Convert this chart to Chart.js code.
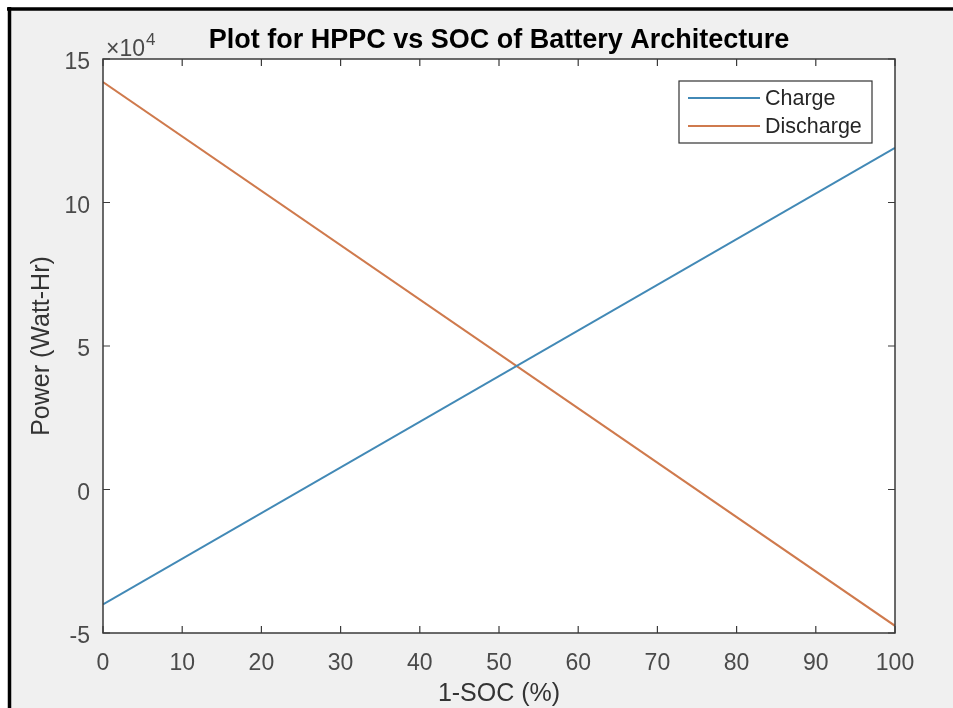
<!DOCTYPE html>
<html>
<head>
<meta charset="utf-8">
<script src="https://cdn.jsdelivr.net/npm/chart.js@4.4.0/dist/chart.umd.min.js"></script>
<style>
  html, body { margin: 0; padding: 0; background: #fff; }
  canvas { display: block; }
</style>
</head>
<body>
<canvas id="hppcChart" width="953" height="708"></canvas>
<script>
// valores (Power en Watt-Hr, eje x = 1-SOC %)
const socPercent = [0, 100];
const chargePower = [-40000, 119000];
const dischargePower = [142000, -47500];

const xTickValues = [0, 10, 20, 30, 40, 50, 60, 70, 80, 90, 100];
const yTickValues = [-50000, 0, 50000, 100000, 150000];
const yExponent = 4;

const FONT = '"Liberation Sans", Arial, Helvetica, sans-serif';
const AXIS_COLOR = '#3a3a3a';
const TEXT_COLOR = '#4a4a4a';

function toPoints(xs, ys) {
  return xs.map((x, i) => ({ x: x, y: ys[i] }));
}

// fondo gris estilo MATLAB, marco negro y area blanca
const matlabFrame = {
  id: 'matlabFrame',
  beforeDraw(chart) {
    const ctx = chart.ctx;
    const a = chart.chartArea;
    ctx.save();
    ctx.fillStyle = '#ffffff';
    ctx.fillRect(0, 0, chart.width, chart.height);
    ctx.fillStyle = '#f0f0f0';
    ctx.fillRect(9, 9, chart.width - 9, chart.height - 9);
    ctx.strokeStyle = '#000';
    ctx.lineWidth = 3.5;
    ctx.beginPath();
    ctx.moveTo(7, 9); ctx.lineTo(chart.width, 9);
    ctx.moveTo(9.5, 7); ctx.lineTo(9.5, chart.height);
    ctx.stroke();
    ctx.fillStyle = '#ffffff';
    ctx.fillRect(a.left, a.top, a.right - a.left, a.bottom - a.top);
    ctx.restore();
  },
  afterDatasetsDraw(chart) {
    const ctx = chart.ctx;
    const a = chart.chartArea;
    const xs = chart.scales.x;
    const ys = chart.scales.y;
    ctx.save();

    // caja de ejes
    ctx.strokeStyle = AXIS_COLOR;
    ctx.lineWidth = 1.5;
    ctx.strokeRect(a.left, a.top, a.right - a.left, a.bottom - a.top);

    // marcas hacia dentro en los cuatro lados
    const tl = 7;
    ctx.lineWidth = 1.2;
    ctx.beginPath();
    xTickValues.forEach(v => {
      const px = xs.getPixelForValue(v);
      ctx.moveTo(px, a.bottom); ctx.lineTo(px, a.bottom - tl);
      ctx.moveTo(px, a.top); ctx.lineTo(px, a.top + tl);
    });
    yTickValues.forEach(v => {
      const py = ys.getPixelForValue(v);
      ctx.moveTo(a.left, py); ctx.lineTo(a.left + tl, py);
      ctx.moveTo(a.right, py); ctx.lineTo(a.right - tl, py);
    });
    ctx.stroke();

    // leyenda
    const lx = 679, ly = 81, lw = 193, lh = 62;
    ctx.fillStyle = '#ffffff';
    ctx.fillRect(lx, ly, lw, lh);
    ctx.strokeStyle = '#333';
    ctx.lineWidth = 1.2;
    ctx.strokeRect(lx, ly, lw, lh);
    ctx.font = '21.5px ' + FONT;
    ctx.textBaseline = 'middle';
    ctx.textAlign = 'left';
    chart.data.datasets.forEach((ds, i) => {
      const y = ly + 17 + i * 28;
      ctx.strokeStyle = ds.borderColor;
      ctx.lineWidth = 2;
      ctx.beginPath();
      ctx.moveTo(lx + 9, y); ctx.lineTo(lx + 81, y);
      ctx.stroke();
      ctx.fillStyle = '#262626';
      ctx.fillText(ds.label, lx + 86, y + 1);
    });

    // titulo
    ctx.fillStyle = '#000';
    ctx.font = 'bold 27px ' + FONT;
    ctx.textAlign = 'center';
    ctx.textBaseline = 'alphabetic';
    ctx.fillText('Plot for HPPC vs SOC of Battery Architecture', (a.left + a.right) / 2, 48);

    // titulos de ejes
    ctx.fillStyle = '#333';
    ctx.font = '25px ' + FONT;
    ctx.textBaseline = 'middle';
    ctx.fillText('1-SOC (%)', (a.left + a.right) / 2, 694);
    ctx.save();
    ctx.translate(42, (a.top + a.bottom) / 2);
    ctx.rotate(-Math.PI / 2);
    ctx.fillText('Power (Watt-Hr)', 0, 0);
    ctx.restore();

    // multiplicador x10^4
    ctx.fillStyle = TEXT_COLOR;
    ctx.textAlign = 'left';
    ctx.textBaseline = 'alphabetic';
    ctx.font = '23px ' + FONT;
    ctx.fillText('\u00d710', a.left + 3, 56);
    const w = ctx.measureText('\u00d710').width;
    ctx.font = '17px ' + FONT;
    ctx.fillText(String(yExponent), a.left + 4 + w, 45);

    ctx.restore();
  }
};

new Chart(document.getElementById('hppcChart'), {
  type: 'line',
  data: {
    datasets: [
      {
        label: 'Charge',
        data: toPoints(socPercent, chargePower),
        borderColor: '#4289b6',
        borderWidth: 2,
        pointRadius: 0,
        tension: 0
      },
      {
        label: 'Discharge',
        data: toPoints(socPercent, dischargePower),
        borderColor: '#cf7a4d',
        borderWidth: 2,
        pointRadius: 0,
        tension: 0
      }
    ]
  },
  options: {
    responsive: false,
    devicePixelRatio: 1,
    animation: false,
    layout: { padding: { top: 59, right: 58, left: 0, bottom: 0 } },
    plugins: {
      legend: { display: false },
      tooltip: { enabled: false },
      title: { display: false }
    },
    scales: {
      x: {
        type: 'linear',
        min: 0,
        max: 100,
        afterBuildTicks: axis => { axis.ticks = xTickValues.map(v => ({ value: v })); },
        afterFit: axis => { axis.height = 75; },
        grid: { display: false, drawTicks: false },
        border: { display: false },
        ticks: {
          color: TEXT_COLOR,
          font: { family: FONT, size: 23 },
          padding: 17,
          maxRotation: 0,
          autoSkip: false
        }
      },
      y: {
        type: 'linear',
        min: -50000,
        max: 150000,
        afterBuildTicks: axis => { axis.ticks = yTickValues.map(v => ({ value: v })); },
        afterFit: axis => { axis.width = 103; },
        grid: { display: false, drawTicks: false },
        border: { display: false },
        ticks: {
          color: TEXT_COLOR,
          font: { family: FONT, size: 23 },
          padding: 13,
          labelOffset: 4,
          callback: v => v / Math.pow(10, yExponent)
        }
      }
    }
  },
  plugins: [matlabFrame]
});
</script>
</body>
</html>
